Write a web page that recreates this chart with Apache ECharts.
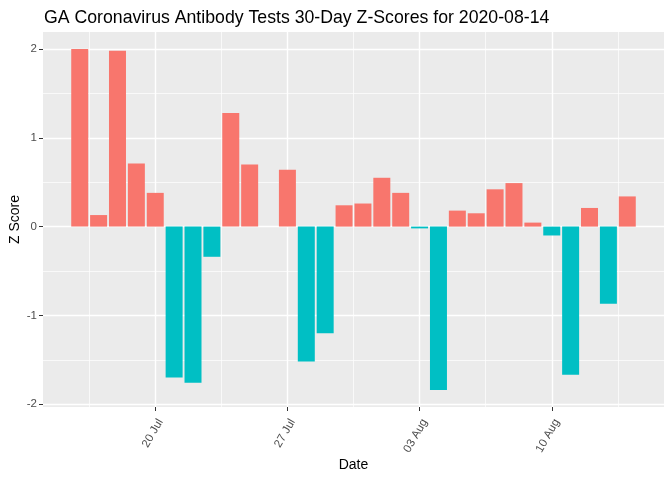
<!DOCTYPE html>
<html>
<head>
<meta charset="utf-8">
<script src="https://cdn.jsdelivr.net/npm/echarts@6/dist/echarts.min.js"></script>
<style>html,body{margin:0;padding:0;background:#fff}#c{width:672px;height:480px}</style>
</head>
<body>
<div id="c"></div>
<script>
const dates = ['2020-07-16','2020-07-17','2020-07-18','2020-07-19','2020-07-20','2020-07-21','2020-07-22','2020-07-23','2020-07-24','2020-07-25','2020-07-26','2020-07-27','2020-07-28','2020-07-29','2020-07-30','2020-07-31','2020-08-01','2020-08-02','2020-08-03','2020-08-04','2020-08-05','2020-08-06','2020-08-07','2020-08-08','2020-08-09','2020-08-10','2020-08-11','2020-08-12','2020-08-13','2020-08-14'];
const zScores = [2.00,0.13,1.98,0.71,0.38,-1.70,-1.76,-0.34,1.28,0.70,0.00,0.64,-1.52,-1.20,0.24,0.26,0.55,0.38,-0.02,-1.84,0.18,0.15,0.42,0.49,0.045,-0.10,-1.67,0.21,-0.87,0.34];
const tickDates = ['2020-07-20','2020-07-27','2020-08-03','2020-08-10'];
const tickLabels = ['20 Jul','27 Jul','03 Aug','10 Aug'];
const yTicks = [-2,-1,0,1,2];

const majorX = tickDates.map(d => dates.indexOf(d));
const minorX = [];
majorX.forEach(v => { minorX.push(v - 3.5); });
minorX.push(majorX[majorX.length-1] + 3.5);
const yMinor = [];
for (let i = 0; i < yTicks.length - 1; i++) yMinor.push((yTicks[i] + yTicks[i+1]) / 2);

const n = dates.length;
const span = (n - 1) + 0.9;
const xMin = -0.45 - span * 0.05;
const xMax = (n - 1) + 0.45 + span * 0.05;
const yDataMin = Math.min(...zScores), yDataMax = Math.max(...zScores);
const ySpan = yDataMax - yDataMin;
const yMin = yDataMin - ySpan * 0.05, yMax = yDataMax + ySpan * 0.05;

const FONT = 'Liberation Sans, Arial, sans-serif';
const chart = echarts.init(document.getElementById('c'));
const gridLine = { show: true, lineStyle: { color: '#ffffff', width: 1.4 } };
const minorLine = { show: true, lineStyle: { color: '#ffffff', width: 0.7 } };
chart.setOption({
  animation: false,
  backgroundColor: '#ffffff',
  title: {
    text: 'GA Coronavirus Antibody Tests 30-Day Z-Scores for 2020-08-14',
    left: 39, top: 4,
    textStyle: { fontFamily: FONT, fontSize: 17.7, fontWeight: 'normal', color: '#000000' }
  },
  grid: { left: 43, right: 8, top: 32, bottom: 73, show: true, backgroundColor: '#EBEBEB', borderWidth: 0, outerBoundsMode: 'none', containLabel: false },
  xAxis: [
    {
      type: 'value', min: xMin, max: xMax,
      name: 'Date', nameLocation: 'middle', nameGap: 51, nameMoveOverlap: false,
      nameTextStyle: { fontFamily: FONT, fontSize: 14, color: '#000000' },
      axisLine: { show: false, onZero: false },
      axisTick: { show: true, length: 4, lineStyle: { color: '#333333', width: 1 }, customValues: majorX },
      axisLabel: {
        customValues: majorX, rotate: 60, margin: 10, verticalAlign: 'top',
        fontFamily: FONT, fontSize: 11.5, color: '#4D4D4D',
        formatter: v => { const i = majorX.indexOf(Math.round(v)); return i >= 0 ? tickLabels[i] : ''; }
      },
      splitLine: gridLine
    },
    {
      type: 'value', min: xMin, max: xMax, position: 'bottom',
      axisLine: { show: false, onZero: false },
      axisTick: { show: false, customValues: minorX },
      axisLabel: { show: false, customValues: minorX },
      splitLine: minorLine
    }
  ],
  yAxis: [
    {
      type: 'value', min: yMin, max: yMax,
      name: 'Z Score', nameLocation: 'middle', nameGap: 21, nameRotate: 90, nameMoveOverlap: false,
      nameTextStyle: { fontFamily: FONT, fontSize: 14, color: '#000000' },
      axisLine: { show: false, onZero: false },
      axisTick: { show: true, length: 4, lineStyle: { color: '#333333', width: 1 }, customValues: yTicks },
      axisLabel: { customValues: yTicks, margin: 6, fontFamily: FONT, fontSize: 11.5, color: '#4D4D4D' },
      splitLine: gridLine
    },
    {
      type: 'value', min: yMin, max: yMax, position: 'left',
      axisLine: { show: false, onZero: false },
      axisTick: { show: false, customValues: yMinor },
      axisLabel: { show: false, customValues: yMinor },
      splitLine: minorLine
    }
  ],
  series: [{
    type: 'bar',
    xAxisIndex: 0, yAxisIndex: 0,
    barWidth: '90%',
    data: zScores.map((v, i) => ({ value: [i, v], itemStyle: { color: v >= 0 ? '#F8766D' : '#00BFC4' } }))
  }]
});
</script>
</body>
</html>
